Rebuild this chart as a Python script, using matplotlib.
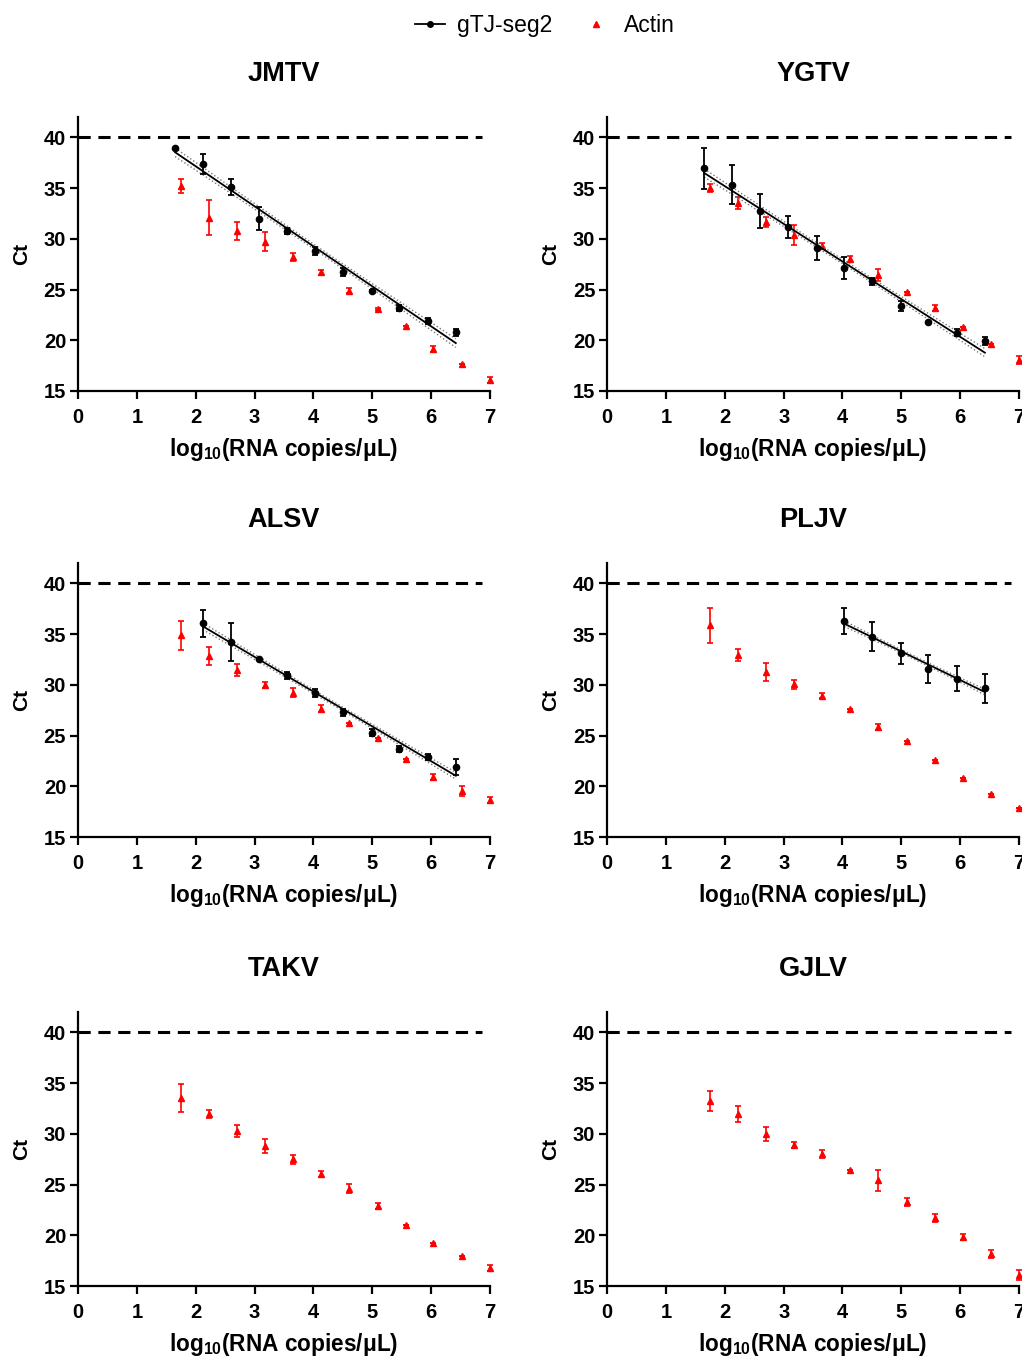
import matplotlib
matplotlib.use("Agg")
import matplotlib.pyplot as plt
from matplotlib.lines import Line2D
import numpy as np

# ─────────────────────────────────────────
# data
# ─────────────────────────────────────────
X_GTJ = [1.65, 2.12, 2.60, 3.08, 3.56, 4.03, 4.51, 4.99, 5.46, 5.94, 6.42]
X_ACT = [1.75, 2.23, 2.70, 3.18, 3.66, 4.13, 4.61, 5.09, 5.57, 6.04, 6.52, 7.00]

VIRUSES = ["JMTV", "YGTV", "ALSV", "PLJV", "TAKV", "GJLV"]

jmtv_gtj     = [38.98, 37.37, 35.10, 31.98, 30.80, 28.77, 26.70, 24.90, 23.18, 21.87, 20.80]
jmtv_gtj_err = [0.00, 1.00, 0.75, 1.15, 0.30, 0.40, 0.40, 0.10, 0.25, 0.30, 0.35]
jmtv_act     = [35.20, 32.08, 30.80, 29.70, 28.20, 26.70, 24.90, 23.10, 21.40, 19.17, 17.66, 16.10]
jmtv_act_err = [0.70, 1.70, 0.90, 0.95, 0.40, 0.25, 0.25, 0.10, 0.00, 0.30, 0.00, 0.30]

ygtv_gtj     = [36.95, 35.34, 32.74, 31.13, 29.06, 27.12, 25.80, 23.38, 21.80, 20.75, 19.96]
ygtv_gtj_err = [2.00, 1.95, 1.65, 1.10, 1.20, 1.10, 0.35, 0.45, 0.00, 0.35, 0.40]
ygtv_act     = [35.04, 33.50, 31.69, 30.40, 29.29, 28.04, 26.40, 24.79, 23.15, 21.34, 19.60, 18.06]
ygtv_act_err = [0.40, 0.60, 0.50, 1.00, 0.30, 0.30, 0.60, 0.00, 0.30, 0.00, 0.00, 0.40]

alsv_gtj     = [36.05, 34.21, 32.57, 30.92, 29.21, 27.30, 25.26, 23.68, 22.90, 21.90]
alsv_gtj_err = [1.35, 1.85, 0.00, 0.30, 0.40, 0.35, 0.35, 0.30, 0.30, 0.80]
alsv_act     = [34.87, 32.86, 31.45, 30.00, 29.24, 27.63, 26.25, 24.77, 22.66, 20.89, 19.50, 18.62]
alsv_act_err = [1.45, 0.90, 0.60, 0.30, 0.40, 0.35, 0.00, 0.00, 0.00, 0.30, 0.50, 0.30]

pljv_gtj     = [36.28, 34.74, 33.09, 31.58, 30.60, 29.64]
pljv_gtj_err = [1.25, 1.40, 1.00, 1.40, 1.25, 1.40]
pljv_act     = [35.86, 32.96, 31.25, 30.03, 28.91, 27.66, 25.86, 24.47, 22.63, 20.79, 19.21, 17.86]
pljv_act_err = [1.75, 0.60, 0.90, 0.40, 0.25, 0.00, 0.30, 0.00, 0.00, 0.00, 0.00, 0.00]

takv_act     = [33.52, 31.94, 30.30, 28.82, 27.47, 26.02, 24.60, 22.93, 21.05, 19.21, 17.96, 16.80]
takv_act_err = [1.40, 0.40, 0.60, 0.70, 0.40, 0.30, 0.45, 0.30, 0.00, 0.00, 0.00, 0.30]

gjlv_act     = [33.26, 31.94, 30.00, 28.91, 28.03, 26.45, 25.40, 23.29, 21.68, 19.80, 18.13, 16.09]
gjlv_act_err = [1.00, 0.80, 0.70, 0.30, 0.40, 0.00, 1.00, 0.40, 0.40, 0.30, 0.40, 0.45]

GTJ = {
    "JMTV": (X_GTJ, jmtv_gtj, jmtv_gtj_err),
    "YGTV": (X_GTJ, ygtv_gtj, ygtv_gtj_err),
    "ALSV": (X_GTJ[1:], alsv_gtj, alsv_gtj_err),
    "PLJV": (X_GTJ[5:], pljv_gtj, pljv_gtj_err),
}
ACT = {
    "JMTV": (jmtv_act, jmtv_act_err),
    "YGTV": (ygtv_act, ygtv_act_err),
    "ALSV": (alsv_act, alsv_act_err),
    "PLJV": (pljv_act, pljv_act_err),
    "TAKV": (takv_act, takv_act_err),
    "GJLV": (gjlv_act, gjlv_act_err),
}

CUTOFF = 40
T95 = 2.05
N_REP = 3   # triplicate wells per dilution

# ─────────────────────────────────────────
# style
# ─────────────────────────────────────────
plt.rcParams.update({
    "font.family":        ["Liberation Sans", "DejaVu Sans"],
    "font.size":          14,
    "font.weight":        "bold",
    "axes.linewidth":     1.6,
    "xtick.major.width":  1.6,
    "ytick.major.width":  1.6,
    "xtick.major.size":   5.5,
    "ytick.major.size":   5.5,
    "xtick.direction":    "out",
    "ytick.direction":    "out",
    "mathtext.fontset":   "custom",
    "mathtext.bf":        "Liberation Sans:bold",
    "mathtext.rm":        "Liberation Sans:bold",
})

fig = plt.figure(figsize=(10.22, 13.59), dpi=100)

LEFTS   = [0.0763, 0.594]
BOTTOMS = [0.7123, 0.3841, 0.0537]
W, H    = 0.4031, 0.2016

for i, name in enumerate(VIRUSES):
    ax = fig.add_axes([LEFTS[i % 2], BOTTOMS[i // 2], W, H])

    # ── cutoff ──
    ax.plot([0, 6.87], [CUTOFF, CUTOFF], ls=(0, (4, 2.5)), color="black", lw=2.2)

    # ── Actin ──
    act, act_err = ACT[name]
    ax.errorbar(X_ACT, act, yerr=act_err, fmt="^", color="red", ms=5,
                elinewidth=1.2, capsize=2.5, capthick=1.2, clip_on=False, zorder=3)

    # ── gTJ-seg2 + linear fit with 95% band ──
    if name in GTJ:
        x, y, e = (np.array(v, dtype=float) for v in GTJ[name])
        slope, icpt = np.polyfit(x, y, 1)
        xx = np.linspace(x.min(), x.max(), 100)
        yy = slope * xx + icpt
        n = len(x)
        s = np.sqrt(np.sum((y - (slope * x + icpt)) ** 2) / (n - 2))
        sxx = np.sum((x - x.mean()) ** 2)
        band = T95 * s * np.sqrt(1 / (N_REP * n) + (xx - x.mean()) ** 2 / (N_REP * sxx))
        ax.plot(xx, yy, color="black", lw=1.3, zorder=4)
        ax.plot(xx, yy + band, color="#777777", lw=1.0, ls=":", zorder=4)
        ax.plot(xx, yy - band, color="#777777", lw=1.0, ls=":", zorder=4)
        ax.errorbar(x, y, yerr=e, fmt="o", color="black", ms=4.5,
                    elinewidth=1.3, capsize=2.5, capthick=1.3, zorder=5)

    # ── axes ──
    ax.set_xlim(0, 7)
    ax.set_ylim(15, 42)
    ax.set_xticks(range(0, 8))
    ax.set_yticks([15, 20, 25, 30, 35, 40])
    ax.tick_params(labelsize=14.5)
    ax.tick_params(axis="x", pad=7)
    ax.tick_params(axis="y", pad=3)
    for lab in ax.get_xticklabels() + ax.get_yticklabels():
        lab.set_fontweight("bold")
    ax.spines["top"].set_visible(False)
    ax.spines["right"].set_visible(False)

    ax.set_title(name, fontsize=19.5, fontweight="bold", pad=26)
    ax.set_ylabel("Ct", fontsize=15, fontweight="bold", labelpad=9)
    ax.set_xlabel(r"log$_{\mathbf{10}}$(RNA copies/μL)", fontsize=16.3,
                  fontweight="bold", labelpad=6)

# ── legend ──
handles = [
    Line2D([], [], color="black", lw=1.3, marker="o", ms=4),
    Line2D([], [], color="red", lw=0, marker="^", ms=4.5),
]
fig.legend(handles, ["gTJ-seg2", "Actin"], loc="upper center",
           bbox_to_anchor=(0.533, 1.0), ncol=2, frameon=False,
           prop={"size": 16.5, "weight": "normal"}, handlelength=1.3,
           handletextpad=0.55, columnspacing=1.25, borderaxespad=0.2)

fig.savefig("out.png", dpi=100, facecolor="white")
